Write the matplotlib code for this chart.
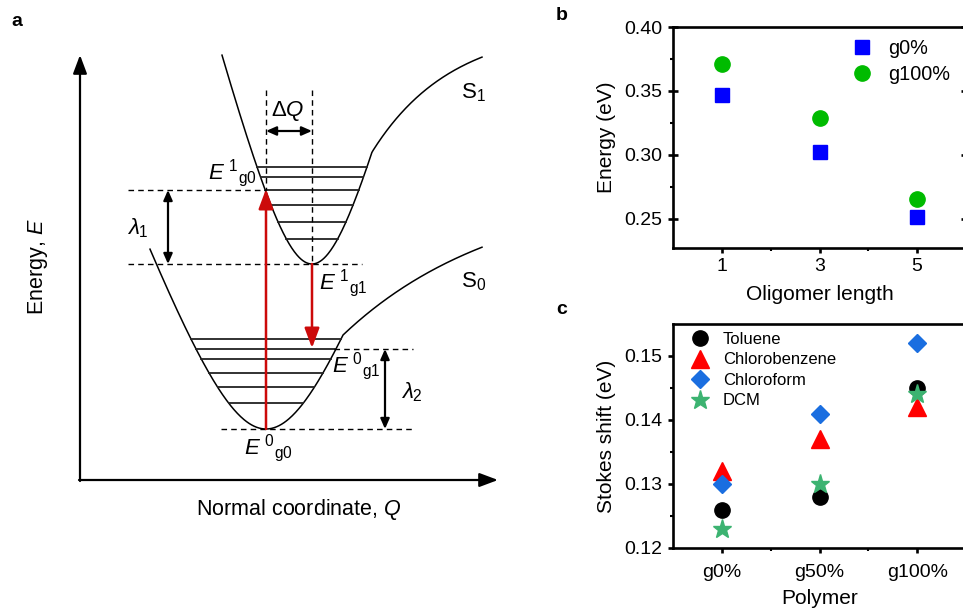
import numpy as np
import matplotlib
matplotlib.use("Agg")
import matplotlib.pyplot as plt
from matplotlib.ticker import FixedLocator, FormatStrFormatter

plt.rcParams['font.family'] = ['Liberation Sans', 'DejaVu Sans']
plt.rcParams['mathtext.fontset'] = 'custom'
plt.rcParams['mathtext.rm'] = 'Liberation Sans'
plt.rcParams['mathtext.it'] = 'Liberation Sans:italic'

# ---- panel b data ----
oligomer_len = [1, 3, 5]
energy_g0 = [0.347, 0.302, 0.251]
energy_g100 = [0.371, 0.329, 0.265]

# ---- panel c data ----
polymers = ['g0%', 'g50%', 'g100%']
shift_toluene = [0.126, 0.128, 0.145]
shift_chlorobenzene = [0.132, 0.137, 0.142]
shift_chloroform = [0.130, 0.141, 0.152]
shift_dcm = [0.123, 0.130, 0.144]

# ---- panel a schematic (pixel-like coordinates, y down) ----
# well: centre x, bottom y, depth scale, width, kink x, slope after kink, decay, left x, right x
s1_well = dict(x0=312, ymin=264, k=180, w=47, xk=372, s0=1.6, L=79, xl=222, xr=482)
s0_well = dict(x0=266, ymin=429, k=184, w=68, xk=343, s0=0.95, L=158, xl=150, xr=482)
s1_levels = [167, 177, 190, 205, 221.5, 239]
s0_levels = [339, 349, 359, 373, 387, 403]

RED = '#cc0a0a'


def well_y(x, p):
    v = p['k'] * (np.sqrt(1 + ((x - p['x0']) / p['w']) ** 2) - 1)
    dk = p['xk'] - p['x0']
    vk = p['k'] * (np.sqrt(1 + (dk / p['w']) ** 2) - 1)
    right = x > p['xk']
    v = np.where(right, vk + p['s0'] * p['L'] * (1 - np.exp(-(x - p['xk']) / p['L'])), v)
    return p['ymin'] - v


def level_span(y, p):
    v = p['ymin'] - y
    d = p['w'] * np.sqrt((v / p['k'] + 1) ** 2 - 1)
    return p['x0'] - d, p['x0'] + d


fig = plt.figure(figsize=(9.63, 6.11), dpi=100)

# ================= panel a =================
ax = fig.add_axes([0, 0, 560 / 963, 1])
ax.set_xlim(0, 560)
ax.set_ylim(611, 0)
ax.axis('off')

for p, levels in ((s1_well, s1_levels), (s0_well, s0_levels)):
    xs = np.linspace(p['xl'], p['xr'], 400)
    ax.plot(xs, well_y(xs, p), color='black', lw=1.1)
    for yl in levels:
        a, b = level_span(yl, p)
        ax.plot([a, b], [yl, yl], color='#222222', lw=1.3)

# axes arrows
arrow_kw = dict(arrowstyle='-|>,head_length=0.8,head_width=0.3', color='black', lw=1.6,
                shrinkA=0, shrinkB=0, mutation_scale=14)
ax.annotate('', xy=(80, 55), xytext=(80, 481), arrowprops=arrow_kw)
ax.annotate('', xy=(498, 480), xytext=(79, 480), arrowprops=arrow_kw)

dash = (0, (4, 3))
e1g0 = s1_levels[2]
e1g1 = s1_well['ymin']
e0g1 = s0_levels[1]
e0g0 = s0_well['ymin']
ax.plot([128, 266], [e1g0, e1g0], color='black', lw=1, ls=dash)
ax.plot([128, 362], [e1g1, e1g1], color='black', lw=1, ls=dash)
ax.plot([334, 413], [e0g1, e0g1], color='black', lw=1, ls=dash)
ax.plot([221, 413], [e0g0, e0g0], color='black', lw=1, ls=dash)
ax.plot([266, 266], [90, e1g0], color='black', lw=1, ls=dash)
ax.plot([312, 312], [90, e1g1], color='black', lw=1, ls=dash)

dbl = dict(arrowstyle='<|-|>,head_length=0.5,head_width=0.22', color='black', lw=1.6,
           shrinkA=0, shrinkB=0, mutation_scale=12)
ax.annotate('', xy=(266, 131), xytext=(312, 131), arrowprops=dbl)
ax.annotate('', xy=(168, e1g0), xytext=(168, e1g1), arrowprops=dbl)
ax.annotate('', xy=(385, e0g1), xytext=(385, e0g0), arrowprops=dbl)

red_kw = dict(arrowstyle='-|>,head_length=0.75,head_width=0.28', color=RED, lw=1.8,
              shrinkA=0, shrinkB=0, mutation_scale=16)
ax.annotate('', xy=(266, e1g0 - 1), xytext=(266, e0g0), arrowprops=red_kw)
ax.annotate('', xy=(312, 348), xytext=(312, e1g1), arrowprops=red_kw)

fs_a = 16
ax.text(288, 116, r'Δ$Q$', fontsize=fs_a, ha='center', va='baseline')
ax.text(461, 98, r'S$_1$', fontsize=fs_a, ha='left', va='baseline')
ax.text(461, 287, r'S$_0$', fontsize=fs_a, ha='left', va='baseline')
ax.text(127, 234, r'$\lambda_1$', fontsize=fs_a, ha='left', va='baseline')
ax.text(401, 398, r'$\lambda_2$', fontsize=fs_a, ha='left', va='baseline')
ax.text(208, 179, r'$E^{\ 1}{}_{\mathrm{g0}}$', fontsize=fs_a, ha='left', va='baseline')
ax.text(319, 289, r'$E^{\ 1}{}_{\mathrm{g1}}$', fontsize=fs_a, ha='left', va='baseline')
ax.text(332, 372, r'$E^{\ 0}{}_{\mathrm{g1}}$', fontsize=fs_a, ha='left', va='baseline')
ax.text(244, 454, r'$E^{\ 0}{}_{\mathrm{g0}}$', fontsize=fs_a, ha='left', va='baseline')
ax.text(38, 267, r'Energy, $E$', fontsize=15.5, rotation=90, ha='center', va='center')
ax.text(299, 509, r'Normal coordinate, $Q$', fontsize=15.5, ha='center', va='center')

fig.text(17 / 963, 1 - 21 / 611, 'a', fontsize=14, fontweight='bold', ha='center', va='center')
fig.text(562 / 963, 1 - 16 / 611, 'b', fontsize=14, fontweight='bold', ha='center', va='center')
fig.text(562 / 963, 1 - 310 / 611, 'c', fontsize=14, fontweight='bold', ha='center', va='center')


def style_axis(a):
    for s in a.spines.values():
        s.set_linewidth(1.9)
    a.tick_params(which='major', direction='out', length=3.5, width=1.9, labelsize=14, pad=4,
                  top=False, right=False)
    a.tick_params(which='minor', direction='out', length=2, width=1.5, top=False, right=False)


# ================= panel b =================
bl, br, bt, bb = 673, 966, 27, 248
axb = fig.add_axes([bl / 963, 1 - bb / 611, (br - bl) / 963, (bb - bt) / 611])
axb.plot(oligomer_len, energy_g0, ls='none', marker='s', ms=10, color='#0000ff', label='g0%')
axb.plot(oligomer_len, energy_g100, ls='none', marker='o', ms=11, color='#00bb00', label='g100%')
axb.set_xlim(0, 6)
axb.set_ylim(0.227, 0.40)
axb.set_xticks(oligomer_len)
axb.xaxis.set_minor_locator(FixedLocator([2, 4]))
axb.set_yticks([0.25, 0.30, 0.35, 0.40])
axb.yaxis.set_minor_locator(FixedLocator([0.275, 0.325, 0.375]))
axb.yaxis.set_major_formatter(FormatStrFormatter('%.2f'))
style_axis(axb)
axb.tick_params(axis='y', which='major', right=True, direction='inout', length=7)
axb.set_xlabel('Oligomer length', fontsize=15, labelpad=7)
axb.set_ylabel('Energy (eV)', fontsize=15, labelpad=6)
axb.legend(loc='upper left', bbox_to_anchor=(0.611, 0.944), frameon=False, fontsize=14.3,
           borderpad=0, borderaxespad=0, handlelength=1.0, handletextpad=0.8, labelspacing=0.35)

# ================= panel c =================
ct, cb = 324, 548
axc = fig.add_axes([bl / 963, 1 - cb / 611, (br - bl) / 963, (cb - ct) / 611])
xc = np.arange(len(polymers))
axc.plot(xc, shift_toluene, ls='none', marker='o', ms=11, color='black', label='Toluene')
axc.plot(xc, shift_chlorobenzene, ls='none', marker='^', ms=12.5, color='#ff0000', label='Chlorobenzene')
axc.plot(xc, shift_chloroform, ls='none', marker='D', ms=9, color='#1a6ee0', label='Chloroform')
axc.plot(xc, shift_dcm, ls='none', marker='*', ms=14, color='#3cb371', label='DCM')
axc.set_xlim(-0.5, 2.5)
axc.set_ylim(0.12, 0.155)
axc.set_xticks(xc)
axc.set_xticklabels(polymers)
axc.xaxis.set_minor_locator(FixedLocator([0.5, 1.5]))
axc.set_yticks([0.12, 0.13, 0.14, 0.15])
axc.yaxis.set_minor_locator(FixedLocator([0.125, 0.135, 0.145]))
axc.yaxis.set_major_formatter(FormatStrFormatter('%.2f'))
style_axis(axc)
axc.tick_params(axis='x', which='major', pad=8)
axc.set_xlabel('Polymer', fontsize=15, labelpad=6)
axc.set_ylabel('Stokes shift (eV)', fontsize=15, labelpad=6)
axc.legend(loc='upper left', bbox_to_anchor=(0.063, 0.965), frameon=False, fontsize=12,
           borderpad=0, borderaxespad=0, handlelength=1.0, handletextpad=0.88, labelspacing=0.33)

fig.savefig('out.png', dpi=100)
